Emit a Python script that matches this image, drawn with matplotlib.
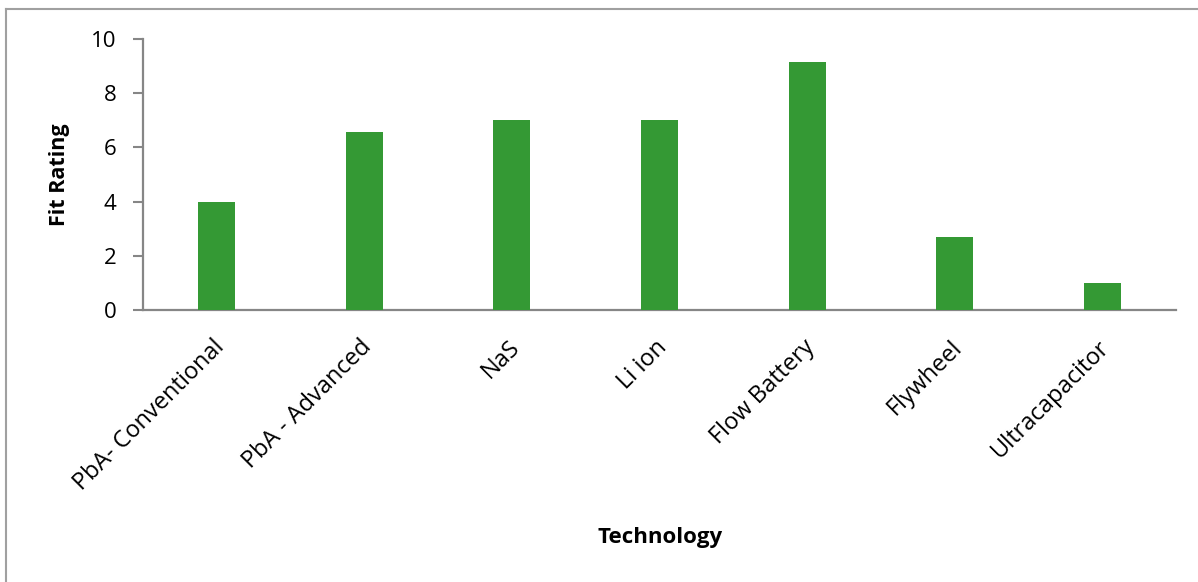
import matplotlib
matplotlib.use('Agg')
import matplotlib.pyplot as plt
import matplotlib.transforms as mtransforms
import numpy as np
from matplotlib.lines import Line2D

plt.rcParams['font.family'] = ['Open Sans', 'DejaVu Sans']

technologies = ['PbA- Conventional', 'PbA - Advanced', 'NaS', 'Li ion',
                'Flow Battery', 'Flywheel', 'Ultracapacitor']
fit_rating = [4.0, 6.57, 7.0, 7.0, 9.15, 2.7, 1.0]
y_ticks = [0, 2, 4, 6, 8, 10]

bar_color = '#349934'
axis_gray = '#868686'

fig = plt.figure(figsize=(11.98, 5.82), dpi=100)
ax = fig.add_axes([0.1194, 0.4674, 0.8622, 0.4656])

x = np.arange(len(technologies))
ax.bar(x, fit_rating, width=0.25, color=bar_color, zorder=3)

ax.set_xlim(-0.5, len(technologies) - 0.5)
ax.set_ylim(0, 10)
ax.set_yticks(y_ticks)
ax.set_xticks(x)
ax.set_xticklabels(technologies, rotation=45, ha='right', va='center',
                   rotation_mode='anchor', fontsize=17)
ax.tick_params(axis='x', length=0, pad=23)
ax.tick_params(axis='y', length=7, width=1.5, color=axis_gray, labelsize=16, pad=12)

# nudge the rotated labels a little to the right
shift = mtransforms.ScaledTranslation(4 / 100, -2 / 100, fig.dpi_scale_trans)
for lbl in ax.get_xticklabels():
    lbl.set_transform(lbl.get_transform() + shift)

for side in ['top', 'right']:
    ax.spines[side].set_visible(False)
for side in ['left', 'bottom']:
    ax.spines[side].set_color(axis_gray)
    ax.spines[side].set_linewidth(1.6)

fig.text(59 / 1198, 1 - 175 / 582, 'Fit Rating', rotation=90, ha='center', va='center',
         fontsize=15.5, fontweight='bold')
fig.text(660 / 1198, 1 - 537 / 582, 'Technology', ha='center', va='center',
         fontsize=16, fontweight='bold')

# chart area border
fig.add_artist(Line2D([6 / 1198, 6 / 1198], [0, 1 - 9 / 582], transform=fig.transFigure,
                      color='#a0a0a0', lw=1.5))
fig.add_artist(Line2D([6 / 1198, 1], [1 - 9 / 582, 1 - 9 / 582], transform=fig.transFigure,
                      color='#a0a0a0', lw=1.5))

fig.savefig('out.png', dpi=100)
